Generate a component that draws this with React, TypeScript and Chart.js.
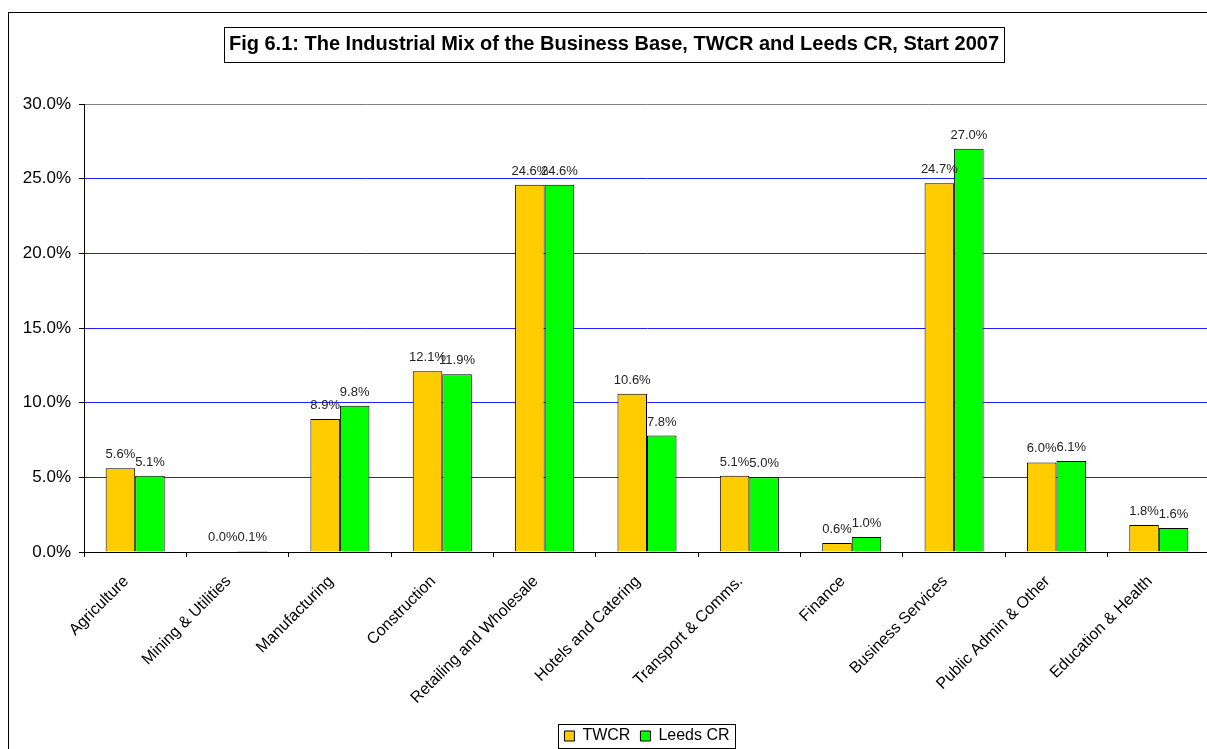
import React, { useEffect, useRef } from "react";
import { Chart, registerables } from "chart.js";

Chart.register(...registerables);

const categories = [
  "Agriculture",
  "Mining & Utilities",
  "Manufacturing",
  "Construction",
  "Retailing and Wholesale",
  "Hotels and Catering",
  "Transport & Comms.",
  "Finance",
  "Business Services",
  "Public Admin & Other",
  "Education & Health",
];
const twcrValues = [5.6, 0.04, 8.9, 12.1, 24.6, 10.6, 5.1, 0.6, 24.7, 6.0, 1.8];
const leedsValues = [5.1, 0.07, 9.8, 11.9, 24.6, 7.8, 5.0, 1.0, 27.0, 6.1, 1.6];
const seriesNames = ["TWCR", "Leeds CR"];
const titleText = "Fig 6.1: The Industrial Mix of the Business Base, TWCR and Leeds CR, Start 2007";
const gridColors = ["#000", "#2020ff", "#2020ff", "#2020ff", "#2020ff", "#2020ff", "#808080"];

const FONT = "'Liberation Sans', Arial, Helvetica, sans-serif";
const TITLE_SIZE = 20;
const TITLE_PAD_TOP = 19;

const decorPlugin = {
  id: "decor",
  afterDatasetsDraw(chart: any) {
    const ctx = chart.ctx;
    ctx.save();
    ctx.font = `13px ${FONT}`;
    ctx.fillStyle = "#222";
    ctx.textAlign = "center";
    ctx.textBaseline = "alphabetic";
    chart.data.datasets.forEach((ds: any, di: number) => {
      const meta = chart.getDatasetMeta(di);
      meta.data.forEach((bar: any, i: number) => {
        const v = ds.data[i];
        ctx.fillText(v.toFixed(1) + "%", bar.x, bar.y - 10);
      });
    });
    ctx.restore();
  },
  afterDraw(chart: any) {
    const ctx = chart.ctx;
    ctx.save();
    const t = chart.titleBlock;
    if (t) {
      ctx.font = `bold ${TITLE_SIZE}px ${FONT}`;
      const w = ctx.measureText(titleText).width;
      const cx = (t.left + t.right) / 2;
      const cy = t.top + TITLE_PAD_TOP + (TITLE_SIZE * 1.2) / 2;
      ctx.strokeStyle = "#000";
      ctx.lineWidth = 1;
      ctx.strokeRect(Math.round(cx - w / 2 - 5) + 0.5, Math.round(cy - 17.5) + 0.5, Math.round(w + 10), 35);
    }
    const lg = chart.legend;
    if (lg && lg.legendHitBoxes && lg.legendHitBoxes.length) {
      const hb = lg.legendHitBoxes;
      const l = Math.min(...hb.map((h: any) => h.left));
      const r = Math.max(...hb.map((h: any) => h.left + h.width));
      const tp = Math.min(...hb.map((h: any) => h.top));
      const bt = Math.max(...hb.map((h: any) => h.top + h.height));
      ctx.strokeStyle = "#000";
      ctx.lineWidth = 1;
      ctx.strokeRect(Math.round(l - 6) + 0.5, Math.round(tp - 4) + 0.5, Math.round(r - l + 12), Math.round(bt - tp + 8));
    }
    ctx.restore();
  },
};

export default function App() {
  const ref = useRef<HTMLCanvasElement | null>(null);
  useEffect(() => {
    if (!ref.current) return;
    const chart = new Chart(ref.current, {
      type: "bar",
      data: {
        labels: categories,
        datasets: [
          {
            label: seriesNames[0],
            data: twcrValues,
            backgroundColor: "#FFCC00",
            borderColor: "#000",
            borderWidth: 1,
          },
          {
            label: seriesNames[1],
            data: leedsValues,
            backgroundColor: "#00FF00",
            borderColor: "#000",
            borderWidth: 1,
          },
        ],
      },
      options: {
        animation: false,
        responsive: false,
        layout: { padding: { left: 9, right: 0, top: 0, bottom: 19 } },
        datasets: { bar: { categoryPercentage: 0.577, barPercentage: 1 } },
        plugins: {
          tooltip: { enabled: false },
          title: {
            display: true,
            text: titleText,
            color: "#000",
            font: { family: FONT, size: TITLE_SIZE, weight: "bold" },
            padding: { top: TITLE_PAD_TOP, bottom: 48 },
          },
          legend: {
            display: true,
            position: "bottom",
            fullSize: false,
            labels: {
              boxWidth: 10,
              boxHeight: 10,
              padding: 10,
              color: "#000",
              font: { family: FONT, size: 16 },
            },
          },
        },
        scales: {
          x: {
            grid: {
              display: true,
              drawOnChartArea: false,
              drawTicks: true,
              tickLength: 5,
              tickColor: "#000",
              offset: true,
            },
            border: { display: true, color: "#000", width: 1 },
            ticks: {
              autoSkip: false,
              maxRotation: 45,
              minRotation: 45,
              color: "#000",
              font: { family: FONT, size: 16 },
              padding: 15,
              labelOffset: -9,
            },
            afterFit: (s: any) => {
              s.height = 166;
            },
          },
          y: {
            min: 0,
            max: 30,
            ticks: {
              stepSize: 5,
              color: "#000",
              padding: 8,
              font: { family: FONT, size: 17 },
              callback: (v: any) => Number(v).toFixed(1) + "%",
            },
            grid: {
              color: gridColors,
              lineWidth: 1,
              tickLength: 5,
              tickColor: "#000",
            },
            border: { display: true, color: "#000", width: 1 },
            afterFit: (s: any) => {
              s.width = 66;
            },
          },
        },
      },
      plugins: [decorPlugin],
    });
    return () => chart.destroy();
  }, []);

  return (
    <div style={{ position: "fixed", left: 0, top: 0, width: 1207, height: 749, overflow: "hidden", background: "#fff" }}>
      <div
        style={{
          position: "absolute",
          left: 8,
          top: 12,
          width: 1300,
          height: 800,
          borderLeft: "1px solid #000",
          borderTop: "1px solid #000",
        }}
      >
        <canvas ref={ref} width={1201} height={760} style={{ display: "block", width: 1201, height: 760 }} />
      </div>
    </div>
  );
}
